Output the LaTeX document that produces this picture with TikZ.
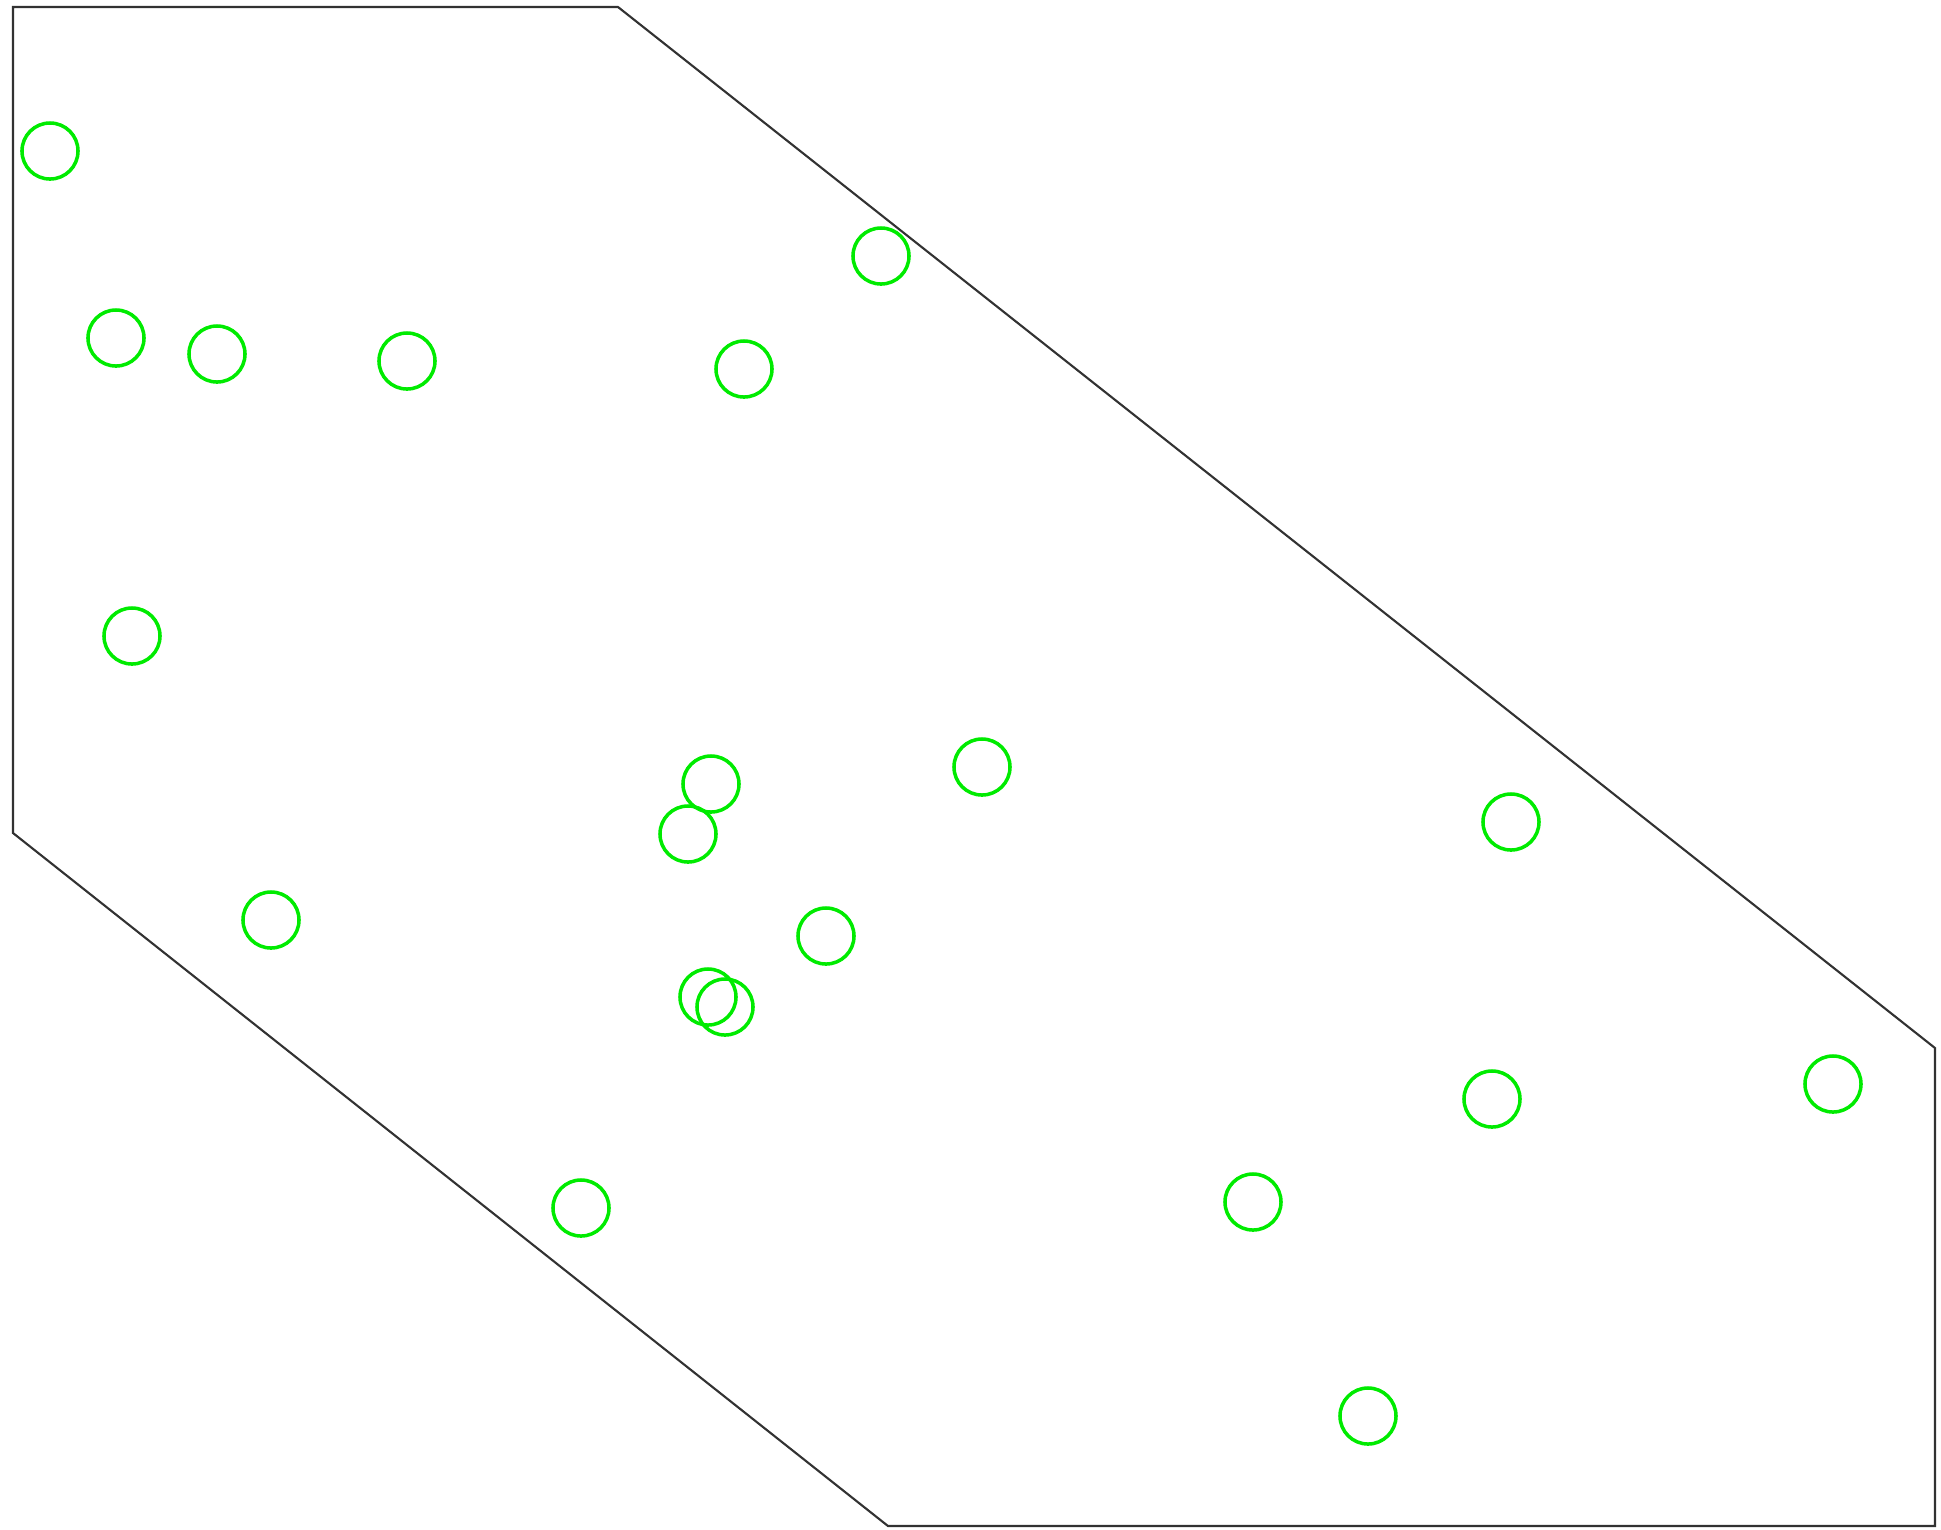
\documentclass[tikz,border=0pt]{standalone}
\begin{document}
\begin{tikzpicture}[x=0.01cm,y=-0.01cm,
  pt/.style={circle,draw={rgb,255:red,0;green,235;blue,0},line width=1.0pt,minimum size=0.56cm,inner sep=0pt},
  outline/.style={draw={rgb,255:red,50;green,50;blue,50},line width=0.6pt}]
\useasboundingbox (0,0) rectangle (1941,1529);
\coordinate (c1) at (13,7);
\coordinate (c2) at (618,7);
\coordinate (c3) at (1935,1048);
\coordinate (c4) at (1935,1526);
\coordinate (c5) at (888,1526);
\coordinate (c6) at (13,833);
\draw[outline] (c1) -- (c2) -- (c3) -- (c4) -- (c5) -- (c6) -- cycle;
\node[pt] (p1) at (50,151) {};
\node[pt] (p2) at (116,338) {};
\node[pt] (p3) at (217,354) {};
\node[pt] (p4) at (407,361) {};
\node[pt] (p5) at (744,369) {};
\node[pt] (p6) at (881,256) {};
\node[pt] (p7) at (132,636) {};
\node[pt] (p8) at (711,784) {};
\node[pt] (p9) at (688,834) {};
\node[pt] (p10) at (982,767) {};
\node[pt] (p11) at (1511,822) {};
\node[pt] (p12) at (271,920) {};
\node[pt] (p13) at (826,936) {};
\node[pt] (p14) at (708,997) {};
\node[pt] (p15) at (725,1007) {};
\node[pt] (p16) at (1492,1099) {};
\node[pt] (p17) at (1833,1084) {};
\node[pt] (p18) at (1253,1202) {};
\node[pt] (p19) at (581,1208) {};
\node[pt] (p20) at (1368,1416) {};
\end{tikzpicture}
\end{document}
